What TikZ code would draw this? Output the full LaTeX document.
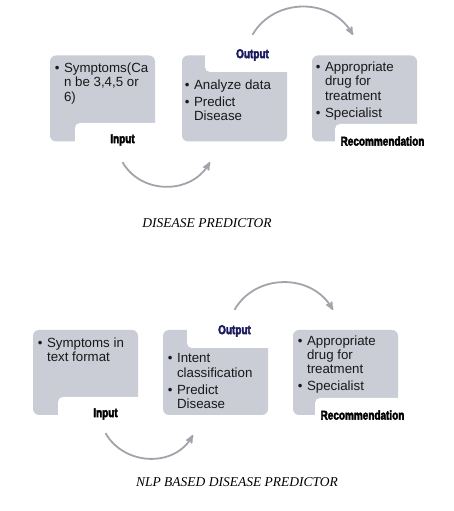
\documentclass[tikz,border=0pt]{standalone}
\usepackage{fontspec}
\setmainfont{Liberation Sans}
\newfontfamily\tagfont[FakeStretch=0.78,FakeBold=3]{Liberation Sans Bold}
\newfontfamily\capfont{Liberation Serif}
\usetikzlibrary{arrows,positioning}

\definecolor{boxgray}{RGB}{202,204,214}
\definecolor{arcgray}{RGB}{163,163,171}
\definecolor{navyout}{RGB}{26,26,94}
\newcommand{\blist}[1]{\begin{tabular}[t]{@{}l@{\hspace{4.5pt}}l@{}}#1\end{tabular}}

\begin{document}
\begin{tikzpicture}[x=1pt,y=1pt,
                    box/.style={fill=boxgray,rounded corners=6pt,minimum width=105pt,
                                minimum height=86pt,inner sep=0pt},
                    tag/.style={fill=white,rounded corners=5pt,minimum width=95pt,minimum height=34pt,
                                inner sep=0pt,font=\tagfont\fontsize{12.8}{14}\selectfont},
                    txt/.style={inner sep=0pt,anchor=base west,text=black!90,
                                font=\fontsize{13.3}{14.3}\selectfont},
                    turnarc/.style={->,>=stealth',draw=arcgray,line width=1.8pt},
                    caption/.style={font=\capfont\itshape\fontsize{13.5}{16}\selectfont}]
  \useasboundingbox[fill=white] (0,0) rectangle (454,511);

  % disease predictor
  \node [box] (a1) at (102.5,412.5) {};
  \node [box] (a2) at (234.5,412.5) {};
  \node [box] (a3) at (364.5,412.5) {};
  \node [tag] (ain)  at (122.5,371) {Input};
  \node [tag,text=navyout] (aout) at (252.5,456) {Output};
  \node [tag] (arec) at (382.5,370) {Recommendation};
  \node [txt] (at1) at (54.7,438.5) {\blist{\textbullet & Symptoms(Ca\\ & n be 3,4,5 or\\ & 6)}};
  \node [txt] (at2) at (184.7,421.5) {\blist{\textbullet & Analyze data\\[2.7pt] \textbullet & Predict\\ & Disease}};
  \node [txt] (at3) at (315.7,439.5) {\blist{\textbullet & Appropriate\\ & drug for\\ & treatment\\[2.7pt] \textbullet & Specialist}};
  \coordinate (ab1) at ([yshift=-5pt]ain.south);
  \coordinate (ab2) at (210,349);
  \coordinate (ac1) at ([yshift=3pt]aout.north);
  \coordinate (ac2) at (353,476);
  \draw [turnarc] (ab1) to [out=-60,in=-120,looseness=1.1] (ab2);
  \draw [turnarc] (ac1) to [out=60,in=120,looseness=1.1] (ac2);
  \node [caption] (acap) at (207,288) {DISEASE PREDICTOR};

  % nlp based disease predictor
  \node [box,minimum height=85pt] (b1) at (85.5,138.5) {};
  \node [box,minimum height=85pt] (b2) at (215.5,138.5) {};
  \node [box,minimum height=85pt] (b3) at (345.5,138.5) {};
  \node [tag] (bin)  at (105.5,97) {Input};
  \node [tag,text=navyout] (bout) at (234.5,180) {Output};
  \node [tag] (brec) at (362.5,96) {Recommendation};
  \node [txt] (bt1) at (37.7,163.5) {\blist{\textbullet & Symptoms in\\ & text format}};
  \node [txt] (bt2) at (167.7,148.2) {\blist{\textbullet & Intent\\ & classification\\[2.7pt] \textbullet & Predict\\ & Disease}};
  \node [txt] (bt3) at (297.7,165.8) {\blist{\textbullet & Appropriate\\ & drug for\\ & treatment\\[2.7pt] \textbullet & Specialist}};
  \coordinate (bb1) at ([yshift=-2pt]bin.south);
  \coordinate (bb2) at (193,76);
  \coordinate (bc1) at ([yshift=4pt]bout.north);
  \coordinate (bc2) at (333,201);
  \draw [turnarc] (bb1) to [out=-60,in=-120,looseness=1.1] (bb2);
  \draw [turnarc] (bc1) to [out=60,in=120,looseness=1.1] (bc2);
  \node [caption] (bcap) at (237,29) {NLP BASED DISEASE PREDICTOR};
\end{tikzpicture}
\end{document}
